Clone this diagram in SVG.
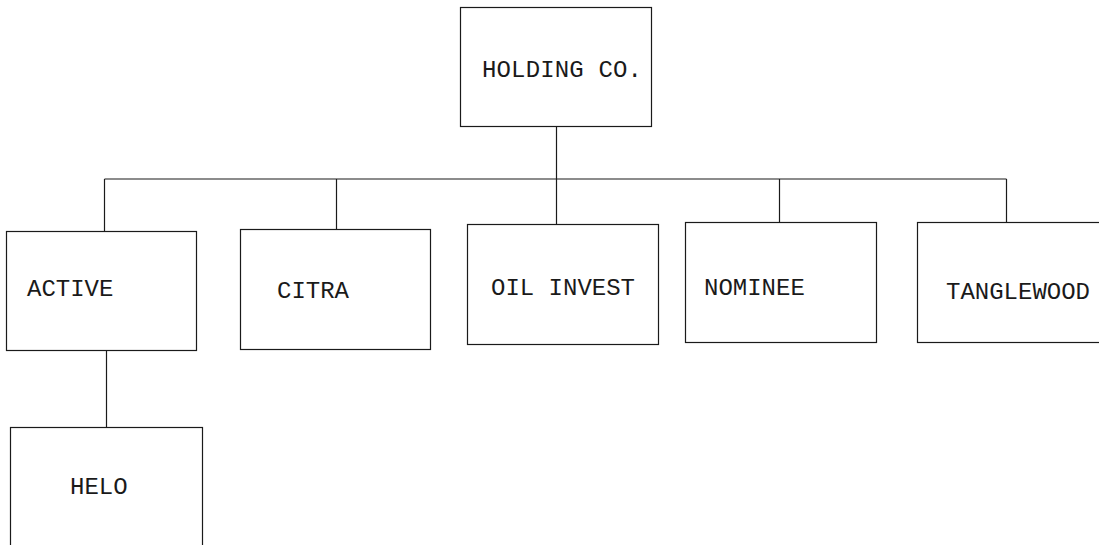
<svg xmlns="http://www.w3.org/2000/svg" width="1099" height="545" viewBox="0 0 1099 545">
  <style>
    .box { fill: #ffffff; stroke: #1a1a1a; stroke-width: 1.2; }
    .lbl { font-family: "Liberation Mono", "Courier New", monospace; font-size: 24px; fill: #1a1a1a; }
    .wire { fill: none; stroke: #1a1a1a; stroke-width: 1.2; }
  </style>
  <rect width="1099" height="545" fill="#ffffff"/>

  <!-- org chart connectors -->
  <g id="connectors">
    <line class="wire" x1="556.5" y1="127" x2="556.5" y2="179"/>
    <line class="wire" x1="104.5" y1="179" x2="1006.5" y2="179"/>
    <line class="wire" x1="104.5" y1="179" x2="104.5" y2="231"/>
    <line class="wire" x1="336.5" y1="179" x2="336.5" y2="229"/>
    <line class="wire" x1="556.5" y1="179" x2="556.5" y2="224"/>
    <line class="wire" x1="779.5" y1="179" x2="779.5" y2="222"/>
    <line class="wire" x1="1006.5" y1="179" x2="1006.5" y2="222"/>
    <line class="wire" x1="106.5" y1="351" x2="106.5" y2="427"/>
  </g>

  <g id="holding">
    <rect class="box" x="460.5" y="7.5" width="191" height="119"/>
    <text class="lbl" x="482" y="77" textLength="160" lengthAdjust="spacing">HOLDING CO.</text>
  </g>

  <g id="active">
    <rect class="box" x="6.5" y="231.5" width="190" height="119"/>
    <text class="lbl" x="27" y="296">ACTIVE</text>
  </g>

  <g id="citra">
    <rect class="box" x="240.5" y="229.5" width="190" height="120"/>
    <text class="lbl" x="277" y="298">CITRA</text>
  </g>

  <g id="oil-invest">
    <rect class="box" x="467.5" y="224.5" width="191" height="120"/>
    <text class="lbl" x="491" y="295">OIL INVEST</text>
  </g>

  <g id="nominee">
    <rect class="box" x="685.5" y="222.5" width="191" height="120"/>
    <text class="lbl" x="704" y="295">NOMINEE</text>
  </g>

  <g id="tanglewood">
    <rect class="box" x="917.5" y="222.5" width="190" height="120"/>
    <text class="lbl" x="946" y="299">TANGLEWOOD</text>
  </g>

  <g id="helo">
    <rect class="box" x="10.5" y="427.5" width="192" height="140"/>
    <text class="lbl" x="70" y="494">HELO</text>
  </g>
</svg>
